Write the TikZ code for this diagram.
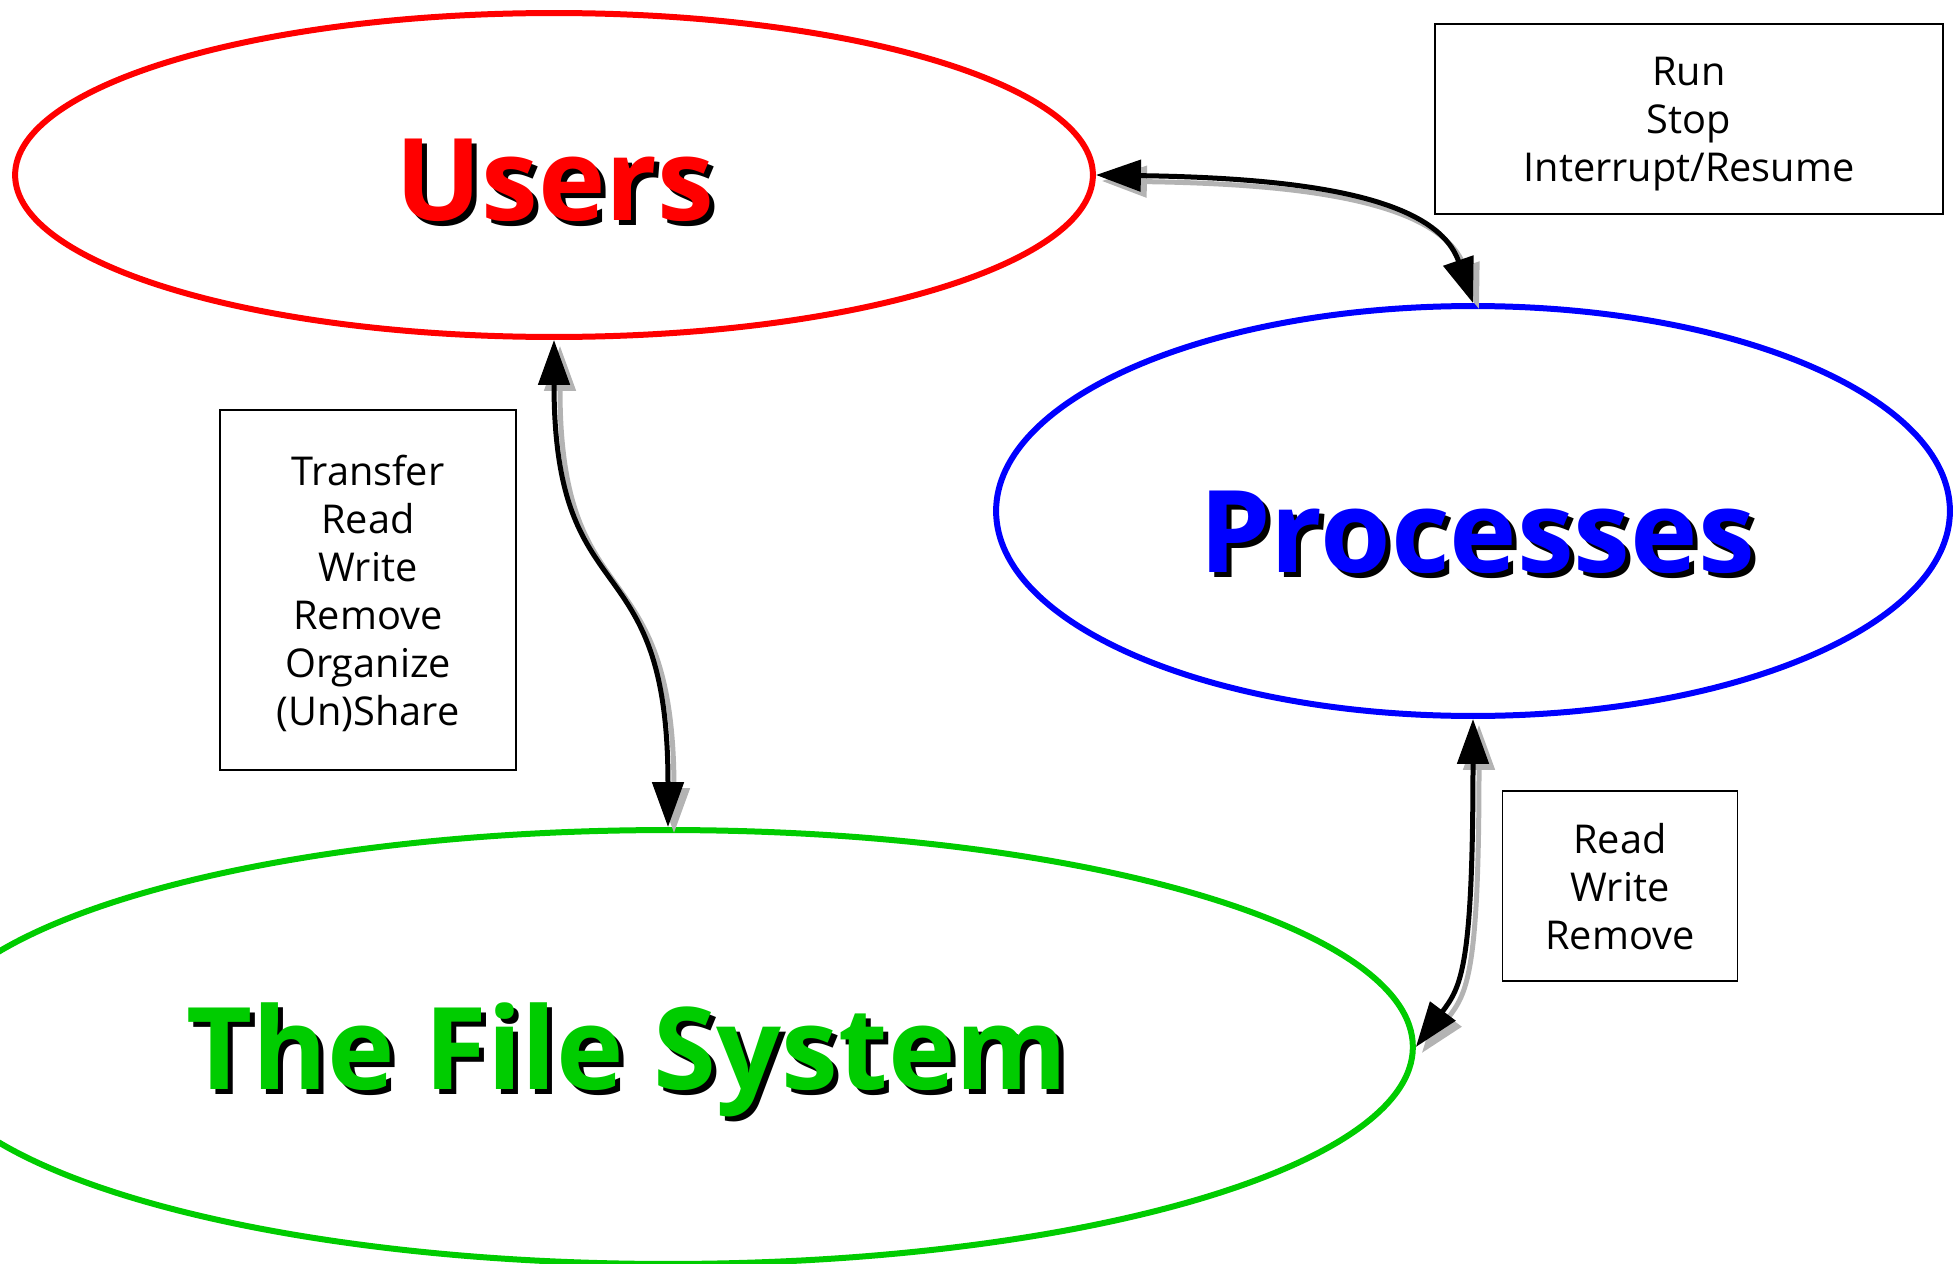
\documentclass[tikz,border=0pt]{standalone}
\usepackage{fontspec}
\setmainfont{Open Sans}
\usepackage{xcolor}
\usepackage{tikz}
\usetikzlibrary{shapes.geometric,arrows.meta,positioning}
\definecolor{red}{RGB}{255,0,0}
\definecolor{blue}{RGB}{0,0,255}
\definecolor{green}{RGB}{0,204,0}
\definecolor{shade}{RGB}{179,179,179}
% coloured word with a black drop shadow
\newcommand{\shtext}[2]{\makebox[0pt][l]{\hspace{0.1cm}\raisebox{-0.1cm}{\color{black}#2}}{\color{#1}#2}}

\begin{document}
\begin{tikzpicture}[x=0.02cm, y=-0.02cm,
    blob/.style={ellipse, draw=#1, line width=0.12cm, inner sep=0pt},
    title/.style={font=\fontsize{65}{70}\selectfont\bfseries, anchor=base},
    note/.style={draw, line width=0.03cm, align=center, inner sep=0pt, text depth=0pt,
        font=\fontsize{22.6}{27.3}\selectfont},
    link/.style={line width=0.1cm,
        {Triangle[length=0.9cm,width=0.62cm]}-{Triangle[length=0.9cm,width=0.62cm]}},
    linkshade/.style={link, draw=shade, transform canvas={shift={(6,6)}}}]

    \useasboundingbox (0,0) rectangle (1958,1264);

    % Ellipses
    \node[blob=red, minimum width=21.56cm, minimum height=6.48cm] (users) at (554,175) {};
    \node[blob=blue, minimum width=19.08cm, minimum height=8.2cm] (procs) at (1473,511) {};
    \node[blob=green, minimum width=29.8cm, minimum height=8.68cm] (fs) at (668,1047) {};

    % Titles
    \node[title] (userstxt) at (555,220) {\shtext{red}{Users}};
    \node[title] (procstxt) at (1477,572) {\shtext{blue}{Processes}};
    \node[title] (fstxt) at (627,1089) {\shtext{green}{The File System}};

    % Boxes
    \node[note, minimum width=10.16cm, minimum height=3.8cm] (runbox) at (1689,119)
        {Run\\Stop\\Interrupt/Resume};
    \node[note, minimum width=5.92cm, minimum height=7.2cm] (filebox) at (368,590)
        {Transfer\\Read\\Write\\Remove\\Organize\\(Un)Share};
    \node[note, minimum width=4.7cm, minimum height=3.8cm] (iobox) at (1620,886)
        {Read\\Write\\Remove};

    % Users <-> Processes
    \draw[linkshade] (users.east) .. controls +(205,3) and +(-37,-107) .. (procs.north);
    \draw[link] (users.east) .. controls +(205,3) and +(-37,-107) .. (procs.north);

    % Users <-> File System
    \draw[linkshade] (users.south) .. controls +(0,280) and +(0,-290) .. (fs.north);
    \draw[link] (users.south) .. controls +(0,280) and +(0,-290) .. (fs.north);

    % Processes <-> File System
    \draw[linkshade] (procs.south) .. controls +(0,250) and +(45,-60) .. (fs.east);
    \draw[link] (procs.south) .. controls +(0,250) and +(45,-60) .. (fs.east);
\end{tikzpicture}
\end{document}
